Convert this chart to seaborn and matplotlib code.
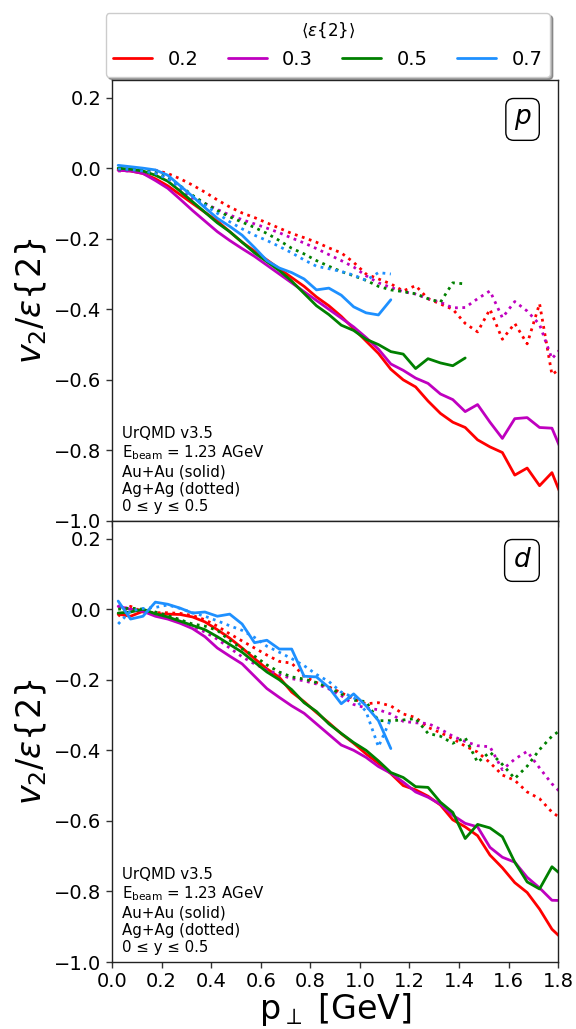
import numpy as np
import pandas as pd
import matplotlib
matplotlib.use("Agg")
import matplotlib.pyplot as plt
from matplotlib.lines import Line2D
import seaborn as sns

# ---------------- data ----------------
pt = [0.025, 0.075, 0.125, 0.175, 0.225, 0.275, 0.325, 0.375, 0.425, 0.475,
      0.525, 0.575, 0.625, 0.675, 0.725, 0.775, 0.825, 0.875, 0.925, 0.975,
      1.025, 1.075, 1.125, 1.175, 1.225, 1.275, 1.325, 1.375, 1.425, 1.475,
      1.525, 1.575, 1.625, 1.675, 1.725, 1.775, 1.825]

ecc_levels = ["0.2", "0.3", "0.5", "0.7"]
colors = ["#ff0000", "#bf00bf", "#008000", "#1e90ff"]

# protons, Au+Au (solid)
p_auau_02 = [-0.005, -0.008, -0.015, -0.03, -0.05, -0.075, -0.10, -0.125, -0.15, -0.18,
             -0.21, -0.235, -0.26, -0.285, -0.31, -0.335, -0.365, -0.39, -0.42, -0.455,
             -0.49, -0.525, -0.57, -0.60, -0.62, -0.66, -0.695, -0.72, -0.735, -0.77,
             -0.79, -0.806, -0.87, -0.85, -0.90, -0.863, -0.95]
p_auau_03 = [-0.006, -0.008, -0.015, -0.035, -0.057, -0.088, -0.12, -0.15, -0.18, -0.205,
             -0.228, -0.25, -0.275, -0.30, -0.325, -0.35, -0.375, -0.40, -0.425, -0.45,
             -0.48, -0.513, -0.555, -0.573, -0.595, -0.61, -0.64, -0.656, -0.69, -0.67,
             -0.72, -0.766, -0.71, -0.707, -0.735, -0.737, -0.82]
p_auau_05 = [0.0, -0.003, -0.008, -0.02, -0.037, -0.065, -0.095, -0.125, -0.155, -0.18,
             -0.21, -0.24, -0.265, -0.29, -0.32, -0.355, -0.39, -0.415, -0.445, -0.46,
             -0.485, -0.50, -0.52, -0.527, -0.568, -0.54, -0.552, -0.56, -0.538]
p_auau_07 = [0.008, 0.004, 0.0, -0.005, -0.02, -0.05, -0.08, -0.112, -0.142, -0.165,
             -0.19, -0.225, -0.262, -0.283, -0.296, -0.314, -0.345, -0.34, -0.36, -0.393,
             -0.41, -0.416, -0.373]
# protons, Ag+Ag (dotted)
p_agag_02 = [-0.003, -0.003, -0.004, -0.006, -0.015, -0.03, -0.048, -0.068, -0.09, -0.11,
             -0.127, -0.14, -0.155, -0.17, -0.185, -0.197, -0.21, -0.226, -0.24, -0.267,
             -0.30, -0.314, -0.328, -0.348, -0.333, -0.37, -0.385, -0.40, -0.44, -0.464,
             -0.40, -0.485, -0.44, -0.498, -0.384, -0.585, -0.56]
p_agag_03 = [-0.008, -0.008, -0.01, -0.015, -0.03, -0.06, -0.085, -0.10, -0.117, -0.133,
             -0.146, -0.158, -0.17, -0.183, -0.198, -0.212, -0.228, -0.245, -0.262, -0.28,
             -0.305, -0.325, -0.338, -0.35, -0.357, -0.37, -0.38, -0.396, -0.395, -0.37,
             -0.348, -0.424, -0.378, -0.405, -0.443, -0.54, -0.50]
p_agag_05 = [-0.003, -0.003, -0.006, -0.012, -0.025, -0.05, -0.077, -0.10, -0.12, -0.138,
             -0.153, -0.168, -0.185, -0.205, -0.227, -0.243, -0.262, -0.278, -0.293, -0.305,
             -0.318, -0.335, -0.345, -0.35, -0.356, -0.37, -0.38, -0.325, -0.328]
p_agag_07 = [-0.002, -0.004, -0.008, -0.015, -0.03, -0.055, -0.08, -0.105, -0.128, -0.152,
             -0.172, -0.19, -0.205, -0.222, -0.24, -0.26, -0.278, -0.285, -0.293, -0.303,
             -0.318, -0.296, -0.30]

# deuterons, Au+Au (solid)
d_auau_02 = [-0.014, -0.02, -0.006, -0.013, -0.014, -0.015, -0.022, -0.036, -0.058, -0.082,
             -0.11, -0.14, -0.169, -0.193, -0.235, -0.262, -0.293, -0.322, -0.353, -0.38,
             -0.41, -0.437, -0.466, -0.50, -0.512, -0.53, -0.555, -0.597, -0.617, -0.642,
             -0.697, -0.733, -0.775, -0.803, -0.85, -0.907, -0.94]
d_auau_03 = [0.008, 0.0, -0.006, -0.02, -0.028, -0.04, -0.055, -0.078, -0.11, -0.133,
             -0.155, -0.19, -0.225, -0.25, -0.274, -0.295, -0.325, -0.355, -0.385, -0.40,
             -0.42, -0.446, -0.465, -0.49, -0.518, -0.533, -0.553, -0.584, -0.607, -0.617,
             -0.675, -0.703, -0.717, -0.76, -0.79, -0.825, -0.826]
d_auau_05 = [-0.011, -0.008, 0.0, -0.013, -0.022, -0.034, -0.046, -0.058, -0.078, -0.10,
             -0.122, -0.15, -0.178, -0.20, -0.228, -0.265, -0.29, -0.325, -0.352, -0.378,
             -0.40, -0.43, -0.463, -0.477, -0.503, -0.505, -0.547, -0.576, -0.65, -0.61,
             -0.62, -0.645, -0.717, -0.773, -0.793, -0.73, -0.76]
d_auau_07 = [0.023, -0.028, -0.02, 0.02, 0.014, 0.003, -0.011, -0.008, -0.02, -0.014,
             -0.042, -0.095, -0.088, -0.113, -0.113, -0.19, -0.192, -0.222, -0.268, -0.24,
             -0.274, -0.316, -0.395]
# deuterons, Ag+Ag (dotted)
d_agag_02 = [-0.02, 0.008, -0.008, -0.01, -0.01, -0.012, -0.018, -0.03, -0.048, -0.07,
             -0.09, -0.11, -0.13, -0.148, -0.153, -0.19, -0.208, -0.22, -0.237, -0.254,
             -0.268, -0.265, -0.274, -0.297, -0.307, -0.335, -0.35, -0.367, -0.388, -0.405,
             -0.435, -0.47, -0.485, -0.518, -0.537, -0.575, -0.60]
d_agag_03 = [0.01, 0.0, -0.002, -0.01, -0.02, -0.03, -0.048, -0.065, -0.085, -0.11,
             -0.135, -0.155, -0.172, -0.185, -0.197, -0.203, -0.212, -0.226, -0.245, -0.27,
             -0.28, -0.285, -0.297, -0.318, -0.322, -0.324, -0.34, -0.36, -0.375, -0.387,
             -0.39, -0.455, -0.425, -0.403, -0.45, -0.495, -0.53]
d_agag_05 = [0.0, 0.003, 0.0, -0.008, -0.018, -0.03, -0.042, -0.048, -0.06, -0.088,
             -0.112, -0.133, -0.158, -0.178, -0.192, -0.198, -0.208, -0.222, -0.24, -0.258,
             -0.262, -0.316, -0.316, -0.314, -0.31, -0.352, -0.36, -0.38, -0.364, -0.434,
             -0.405, -0.44, -0.48, -0.445, -0.398, -0.36, -0.335]
d_agag_07 = [-0.042, -0.005, 0.002, 0.005, 0.012, 0.002, -0.01, -0.02, -0.033, -0.047,
             -0.06, -0.08, -0.105, -0.122, -0.14, -0.16, -0.185, -0.205, -0.235, -0.25,
             -0.29, -0.39, -0.31]

series = {
    ("p", "Au+Au"): [p_auau_02, p_auau_03, p_auau_05, p_auau_07],
    ("p", "Ag+Ag"): [p_agag_02, p_agag_03, p_agag_05, p_agag_07],
    ("d", "Au+Au"): [d_auau_02, d_auau_03, d_auau_05, d_auau_07],
    ("d", "Ag+Ag"): [d_agag_02, d_agag_03, d_agag_05, d_agag_07],
}

rows = []
for (part, syst), lists in series.items():
    for ecc, vals in zip(ecc_levels, lists):
        for x, y in zip(pt, vals):
            rows.append(dict(particle=part, system=syst, ecc=ecc, pt=x, v2=y))
df = pd.DataFrame(rows)

# ---------------- plot ----------------
sns.set_style("ticks")
plt.rcParams["font.family"] = ["DejaVu Sans"]
plt.rcParams["mathtext.fontset"] = "dejavusans"
for k in ["text.color", "axes.labelcolor", "xtick.color", "ytick.color"]:
    plt.rcParams[k] = "black"

fig = plt.figure(figsize=(5.76, 10.29), dpi=100)
gs = fig.add_gridspec(2, 1, left=0.1944, right=0.969, top=0.9223, bottom=0.0651, hspace=0)
ax1 = fig.add_subplot(gs[0])
ax2 = fig.add_subplot(gs[1], sharex=ax1)

palette = dict(zip(ecc_levels, colors))
dashes = {"Au+Au": "", "Ag+Ag": (1, 1.65)}

annot = ("UrQMD v3.5\nE$_{\\rm beam}$ = 1.23 AGeV\nAu+Au (solid)\n"
         "Ag+Ag (dotted)\n0 \u2264 y \u2264 0.5")

for ax, part in [(ax1, "p"), (ax2, "d")]:
    sub = df[df.particle == part]
    sns.lineplot(data=sub, x="pt", y="v2", hue="ecc", style="system",
                 hue_order=ecc_levels, style_order=["Au+Au", "Ag+Ag"],
                 palette=palette, dashes=dashes, linewidth=2.0,
                 estimator=None, sort=True, legend=False, ax=ax)
    ax.set_xlim(0, 1.8)
    ax.set_ylim(-1.0, 0.25)
    ax.set_yticks([-1.0, -0.8, -0.6, -0.4, -0.2, 0.0, 0.2])
    ax.set_xticks([0.0, 0.2, 0.4, 0.6, 0.8, 1.0, 1.2, 1.4, 1.6, 1.8])
    ax.tick_params(axis="both", labelsize=14, direction="out", length=4, width=1,
                   color="#333333", labelcolor="black")
    for s in ax.spines.values():
        s.set_color("#222222")
        s.set_linewidth(1.0)
    ax.set_ylabel(r"$v_2/\varepsilon\{2\}$", fontsize=24, labelpad=4)
    ax.set_xlabel("")
    ax.text(0.94, 0.94, "$%s$" % part, transform=ax.transAxes, ha="right", va="top",
            fontsize=19,
            bbox=dict(boxstyle="round,pad=0.3", fc="white", ec="black", lw=1))
    ax.text(0.022, 0.015, annot, transform=ax.transAxes, ha="left", va="bottom",
            fontsize=10.8, linespacing=1.2)

plt.setp(ax1.get_xticklabels(), visible=False)
ax2.set_xlabel(r"p$_\perp$ [GeV]", fontsize=24, labelpad=0)

handles = [Line2D([0], [0], color=c, lw=2) for c in colors]
fig.legend(handles, ecc_levels, loc="upper center", bbox_to_anchor=(0.569, 0.997),
           ncol=4, title=r"$\langle\varepsilon\{2\}\rangle$", fontsize=14,
           title_fontsize=12, shadow=True, fancybox=True, frameon=True,
           framealpha=1, edgecolor="#cccccc", columnspacing=1.5, handlelength=2.0)

fig.savefig("out.png", dpi=100)
